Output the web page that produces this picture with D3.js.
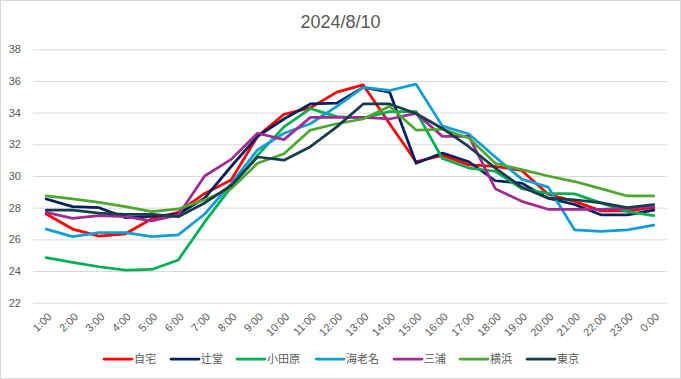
<!DOCTYPE html>
<html><head><meta charset="utf-8">
<script src="https://cdn.jsdelivr.net/npm/d3@7"></script>
<style>
html,body{margin:0;padding:0;background:#fff;}
svg{display:block;font-family:"Liberation Sans",Arial,"Noto Sans CJK JP",sans-serif;}
</style></head>
<body>
<svg id="c" width="681" height="379"></svg>
<script>
const title = "2024/8/10";
const categories = ["1:00","2:00","3:00","4:00","5:00","6:00","7:00","8:00","9:00","10:00","11:00","12:00","13:00","14:00","15:00","16:00","17:00","18:00","19:00","20:00","21:00","22:00","23:00","0:00"];
const yTicks = [22,24,26,28,30,32,34,36,38];
const seriesNames = ["自宅","辻堂","小田原","海老名","三浦","横浜","東京"];
const seriesColors = ["#ff0000","#002060","#00b050","#0f9ed5","#a02b93","#4ea72e","#173c4f"];
const jitaku   = [27.6,26.65,26.2,26.35,27.3,27.7,28.9,29.75,32.5,33.9,34.3,35.3,35.75,33.3,30.9,31.3,30.7,30.6,30.35,28.85,28.4,27.8,27.8,28.0];
const tsujido  = [28.55,28.07,28.0,27.37,27.45,27.6,28.6,30.6,32.5,33.6,34.55,34.6,35.6,35.3,30.8,31.45,30.9,29.7,29.55,28.6,28.2,27.55,27.55,27.85];
const odawara  = [24.85,24.55,24.27,24.05,24.1,24.7,27.1,29.3,31.3,33.1,34.25,33.75,33.65,34.07,34.07,31.1,30.5,30.3,29.2,28.9,28.87,28.3,27.75,27.5];
const ebina    = [26.65,26.17,26.42,26.42,26.17,26.28,27.6,29.5,31.65,32.7,33.3,34.4,35.6,35.4,35.8,33.15,32.65,31.2,29.8,29.3,26.6,26.5,26.6,26.9];
const miura    = [27.7,27.33,27.5,27.43,27.16,27.54,30.0,31.05,32.7,32.3,33.7,33.7,33.7,33.6,33.95,32.5,32.5,29.2,28.4,27.9,27.9,27.9,27.95,28.05];
const yokohama = [28.74,28.55,28.34,28.06,27.75,27.92,28.5,29.2,30.8,31.4,32.9,33.3,33.6,34.4,32.9,32.95,32.4,30.8,30.4,30.0,29.65,29.2,28.74,28.74];
const tokyo    = [27.85,27.85,27.65,27.58,27.58,27.43,28.3,29.4,31.2,31.0,31.85,33.1,34.55,34.55,33.95,33.0,31.85,30.5,29.3,28.6,28.5,28.3,28.0,28.2];
const seriesValues = [jitaku,tsujido,odawara,ebina,miura,yokohama,tokyo];

const svg = d3.select("#c");
const W = 681, H = 379;
const plot = {left:33, right:667, top:49.3, bottom:302.7};
const textColor = "#595959";

svg.append("rect").attr("x",0.5).attr("y",0.5).attr("width",W-1).attr("height",H-1)
  .attr("fill","#fff").attr("stroke","#d9d9d9");

const x = d3.scalePoint().domain(categories).range([plot.left, plot.right]).padding(0.5);
const y = d3.scaleLinear().domain([22,38]).range([plot.bottom, plot.top]);

// gridlines
const yAxis = d3.axisLeft(y).tickValues(yTicks).tickSize(-(plot.right-plot.left)).tickPadding(12).tickFormat(d3.format("d"));
const gy = svg.append("g").attr("transform",`translate(${plot.left},0)`).call(yAxis);
gy.select(".domain").remove();
gy.selectAll(".tick line").attr("stroke","#d9d9d9").attr("stroke-width",1);
gy.selectAll(".tick text").attr("fill",textColor).attr("font-size",11);

// x axis labels
const xAxis = d3.axisBottom(x).tickSize(0).tickPadding(0);
const gx = svg.append("g").attr("transform",`translate(0,${plot.bottom})`).call(xAxis);
gx.select(".domain").remove();
gx.selectAll(".tick text")
  .attr("fill",textColor).attr("font-size",11)
  .attr("text-anchor","end")
  .attr("dy","0.35em")
  .attr("transform","translate(3,12) rotate(-45)");

// title
svg.append("text").attr("x",W/2).attr("y",28).attr("text-anchor","middle")
  .attr("fill",textColor).attr("font-size",18).text(title);

// lines
const line = d3.line().x((d,i)=>x(categories[i])).y(d=>y(d));
seriesValues.forEach((vals,k)=>{
  svg.append("path").datum(vals).attr("d",line)
    .attr("fill","none").attr("stroke",seriesColors[k]).attr("stroke-width",2.75)
    .attr("stroke-linejoin","round").attr("stroke-linecap","round");
});

// legend
const legendStarts = [104,171,237,316,394,460,527];
const lg = svg.append("g");
seriesNames.forEach((n,k)=>{
  const g = lg.append("g").attr("transform",`translate(${legendStarts[k]},359)`);
  g.append("line").attr("x1",0).attr("x2",28).attr("y1",0).attr("y2",0)
    .attr("stroke",seriesColors[k]).attr("stroke-width",2.75).attr("stroke-linecap","round");
  g.append("text").attr("x",30).attr("y",0).attr("dy","0.35em")
    .attr("fill",textColor).attr("font-size",11).text(n);
});
</script>
</body></html>
